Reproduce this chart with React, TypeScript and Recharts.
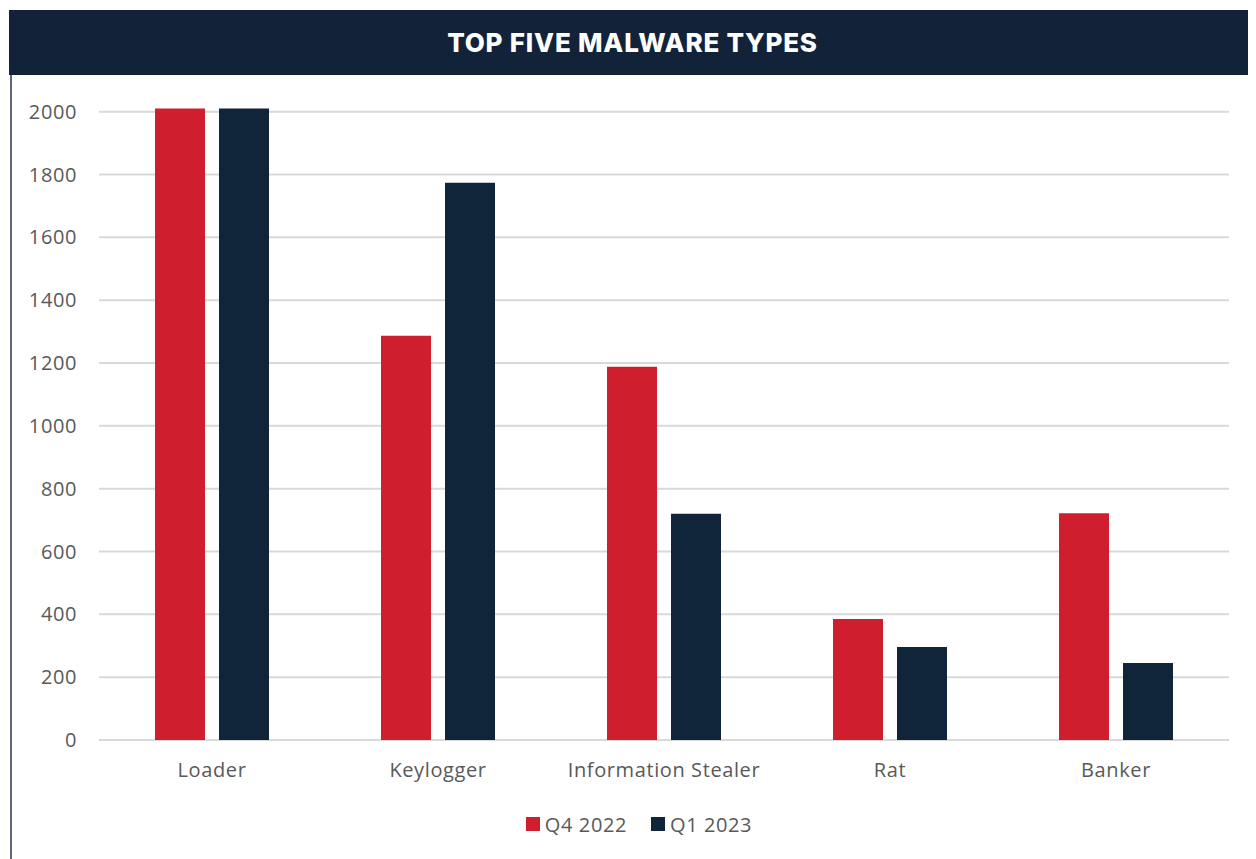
import { Bar, BarChart, CartesianGrid, Legend, XAxis, YAxis } from 'recharts'

// データ
const categories = ['Loader', 'Keylogger', 'Information Stealer', 'Rat', 'Banker']
const q4_2022 = [2010, 1287, 1188, 385, 722]
const q1_2023 = [2010, 1774, 720, 296, 245]
const yTicks = [0, 200, 400, 600, 800, 1000, 1200, 1400, 1600, 1800, 2000]
const seriesNames = ['Q4 2022', 'Q1 2023']

const RED = '#cf1f2e'
const NAVY = '#10243a'
const TEXT = '#595959'
const FONT = "'Open Sans', sans-serif"

const data = categories.map((name, i) => ({
  name,
  idx: i + 0.5,
  q4: q4_2022[i],
  q1: q1_2023[i],
}))

const LegendContent = () => (
  <div style={{ display: 'flex', justifyContent: 'center', alignItems: 'center', height: 40, fontFamily: FONT, fontSize: 20, letterSpacing: 0.6, color: TEXT, paddingLeft: 30 }}>
    {[RED, NAVY].map((c, i) => (
      <div key={i} style={{ display: 'flex', alignItems: 'center', marginRight: i === 0 ? 24 : 0 }}>
        <span style={{ width: 14, height: 14, background: c, display: 'inline-block', marginRight: 5 }} />
        <span>{seriesNames[i]}</span>
      </div>
    ))}
  </div>
)

const App = () => {
  return (
    <div style={{ position: 'relative', width: 1248, height: 851 }}>
      <div style={{ position: 'absolute', left: 2, top: 67, width: 2, height: 784, background: '#5d6675' }} />
      <BarChart
        width={1248}
        height={851}
        data={data}
        margin={{ top: 88, right: 27, left: 11, bottom: 15 }}
        barGap={14}
        barSize={50}
      >
        <CartesianGrid vertical={false} stroke='#d9d9d9' strokeWidth={2} syncWithTicks />
        <XAxis
          xAxisId='edge'
          type='number'
          dataKey='idx'
          domain={[0, 5]}
          ticks={[0, 1, 2, 3, 4, 5]}
          height={0}
          tickSize={8}
          tickFormatter={() => ''}
          stroke='#d9d9d9'
          axisLine={{ stroke: '#d9d9d9', strokeWidth: 2 }}
          tickLine={{ stroke: '#d9d9d9', strokeWidth: 2 }}
        />
        <XAxis
          xAxisId='cat'
          dataKey='name'
          height={64}
          axisLine={false}
          tickLine={false}
          tickMargin={17}
          tick={{ fill: TEXT, fontSize: 20, fontFamily: FONT, letterSpacing: 0.6 }}
        />
        <YAxis
          width={80}
          domain={[0, 2050]}
          ticks={yTicks}
          axisLine={false}
          tickLine={false}
          tickMargin={16}
          tick={{ fill: TEXT, fontSize: 20, fontFamily: FONT, letterSpacing: 0.6 }}
        />
        <Legend verticalAlign='bottom' height={40} content={<LegendContent />} />
        <Bar xAxisId='cat' dataKey='q4' name={seriesNames[0]} fill={RED} isAnimationActive={false} />
        <Bar xAxisId='cat' dataKey='q1' name={seriesNames[1]} fill={NAVY} isAnimationActive={false} />
      </BarChart>
      <div
        style={{
          position: 'absolute',
          left: 1,
          top: 2,
          width: 1247,
          height: 65,
          background: '#122339',
          color: '#fff',
          fontFamily: 'Inter, sans-serif',
          fontWeight: 800,
          fontSize: 26,
          letterSpacing: 0.8,
          display: 'flex',
          alignItems: 'center',
          justifyContent: 'center',
        }}
      >
        TOP FIVE MALWARE TYPES
      </div>
    </div>
  )
}

export default App
